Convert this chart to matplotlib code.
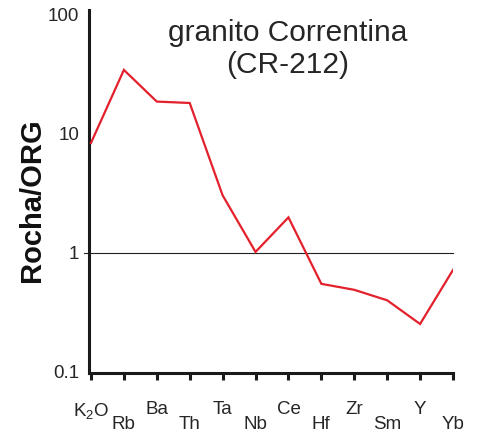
import numpy as np
import matplotlib
matplotlib.use("Agg")
import matplotlib.pyplot as plt

# elementos e valores normalizados ao ORG
elements = ["K$_2$O", "Rb", "Ba", "Th", "Ta", "Nb", "Ce", "Hf", "Zr", "Sm", "Y", "Yb"]
rock_org = [8.4, 34.5, 18.7, 18.2, 3.05, 1.02, 1.99, 0.55, 0.49, 0.40, 0.253, 0.72]
ref_level = 1.0
yticks = [0.1, 1, 10, 100]
ytick_labels = ["0.1", "1", "10", "100"]

plt.rcParams['font.family'] = ['Liberation Sans', 'DejaVu Sans']
plt.rcParams['mathtext.default'] = 'regular'
txt = '#262626'

fig = plt.figure(figsize=(4.78, 4.38), dpi=100)
ax = fig.add_axes([89/478, (438-373)/438, (453-89)/478, (373-10)/438])

x = np.arange(len(elements))
ax.plot(x, rock_org, color='#e3202b', lw=1.6, solid_joinstyle='miter', zorder=3)
ax.axhline(ref_level, xmin=-0.015, xmax=1, color='#222222', lw=0.8, clip_on=False, zorder=2)

ax.set_yscale('log')
ax.set_ylim(0.098, 110)
ax.set_xlim(-0.06, len(elements) - 1)
ax.set_yticks(yticks)
ax.set_yticklabels(ytick_labels, fontsize=13.5, color=txt)
ax.yaxis.set_minor_locator(matplotlib.ticker.NullLocator())
ax.tick_params(axis='y', length=0, pad=7)

ax.set_xticks(x)
ax.set_xticklabels(elements, fontsize=13.5, color=txt)
ax.tick_params(axis='x', direction='out', length=5, width=2.2, color='#1a1a1a')
for i, t in enumerate(ax.xaxis.get_major_ticks()):
    t.set_pad(15 if i % 2 == 0 else 26)

for s in ['top', 'right']:
    ax.spines[s].set_visible(False)
for s in ['left', 'bottom']:
    ax.spines[s].set_linewidth(2.2)
    ax.spines[s].set_color('#1a1a1a')

fig.text(288/478, 1 - 40.7/438, "granito Correntina", ha='center', va='baseline',
         fontsize=21.5, color=txt)
fig.text(288/478, 1 - 73/438, "(CR-212)", ha='center', va='baseline',
         fontsize=21.5, color=txt)
fig.text(32/478, 1 - 200/438, "Rocha/ORG", rotation=90, ha='center', va='center',
         fontsize=21, fontweight='bold', color='#111111')

fig.savefig("out.png", dpi=100)
